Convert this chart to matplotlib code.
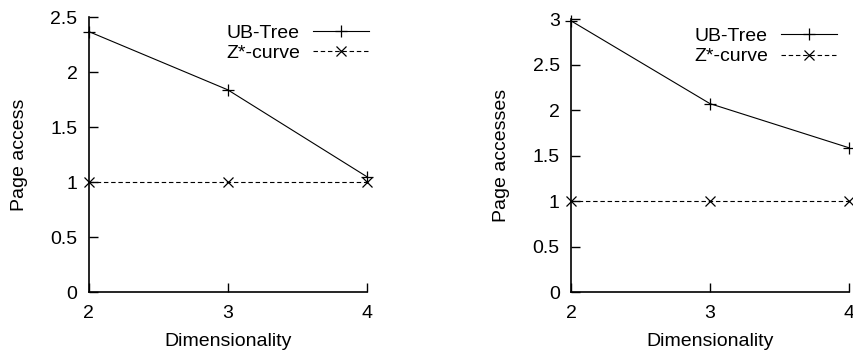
"""Page accesses vs dimensionality, UB-Tree against Z*-curve"""

import matplotlib.pyplot as plt

plt.rcParams["font.family"] = ["Liberation Sans", "DejaVu Sans"]

# data
dims = [2, 3, 4]
ub_left = [2.37, 1.84, 1.05]
z_left = [1.0, 1.0, 1.0]
ub_right = [2.98, 2.07, 1.585]
z_right = [1.0, 1.0, 1.0]

ylabels = ["Page access", "Page accesses"]
yticks_left = [0, 0.5, 1, 1.5, 2, 2.5]
yticks_right = [0, 0.5, 1, 1.5, 2, 2.5, 3]

fig = plt.figure(figsize=(8.54, 3.5), dpi=100)
ax1 = fig.add_axes([0.1039, 0.1657, 0.3255, 0.785])
ax2 = fig.add_axes([0.6686, 0.1657, 0.3255, 0.780])

panels = [
    (ax1, ub_left, z_left, ylabels[0], yticks_left, (1.008, 0.975)),
    (ax2, ub_right, z_right, ylabels[1], yticks_right, (0.957, 0.970)),
]

for ax, ub, z, ylab, yt, anchor in panels:
    ax.plot(dims, ub, color="black", lw=0.8, marker="+", markersize=9,
            markeredgewidth=0.9, label="UB-Tree", clip_on=False)
    ax.plot(dims, z, color="black", lw=0.8, ls=(0, (4, 2.5)), marker="x",
            markersize=7, markeredgewidth=0.9, label="Z*-curve", clip_on=False)

    ax.set_xlim(2, 4)
    ax.set_ylim(0, yt[-1])
    ax.set_xticks(dims)
    ax.set_yticks(yt)
    ax.set_yticklabels([("%g" % v) for v in yt])

    # gnuplot look: only left and bottom border, ticks inward
    ax.spines["top"].set_visible(False)
    ax.spines["right"].set_visible(False)
    ax.spines["left"].set_linewidth(1.2)
    ax.spines["bottom"].set_linewidth(1.2)
    ax.tick_params(direction="in", length=6.5, width=1, labelsize=14)
    ax.tick_params(axis="x", pad=9)
    ax.tick_params(axis="y", pad=8)

    ax.set_ylabel(ylab, fontsize=14)
    ax.set_xlabel("Dimensionality", fontsize=14)
    ax.yaxis.set_label_coords(-0.22, 0.5)
    ax.xaxis.set_label_coords(0.5, -0.15)

    ax.legend(loc="upper right", bbox_to_anchor=anchor, frameon=False,
              markerfirst=False, fontsize=14, handlelength=2.9,
              handletextpad=0.65, labelspacing=0.15, borderpad=0,
              borderaxespad=0)

fig.savefig("out.png", dpi=100)
